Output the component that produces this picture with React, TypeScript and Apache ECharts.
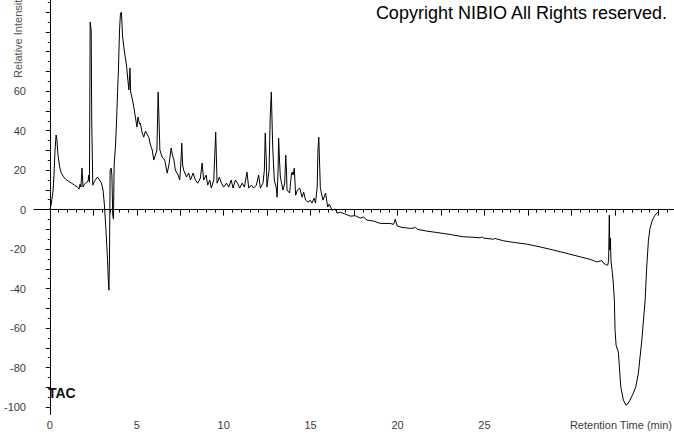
import React, { useEffect, useRef } from "react";
import * as echarts from "echarts";

const retentionTimes = [
  0, 0.07, 0.18, 0.24, 0.3, 0.36, 0.4, 0.47, 0.56, 0.64, 0.76, 0.9, 1.07, 1.25, 1.42, 1.59, 1.68, 1.74, 1.79, 1.85,
  1.91, 2.0, 2.11, 2.2, 2.24, 2.28, 2.32, 2.38, 2.41, 2.47, 2.57, 2.74, 2.86, 2.97, 3.06, 3.14, 3.23, 3.32, 3.37, 3.4,
  3.43, 3.47, 3.53, 3.57, 3.62, 3.66, 3.7, 3.78, 3.83, 3.89, 3.95, 4.01, 4.06, 4.12, 4.18, 4.24, 4.32, 4.41, 4.49, 4.55,
  4.61, 4.65, 4.72, 4.81, 4.93, 5.01, 5.07, 5.16, 5.21, 5.3, 5.4, 5.5, 5.59, 5.69, 5.79, 5.89, 5.98, 6.07, 6.16, 6.23,
  6.28, 6.33, 6.46, 6.61, 6.75, 6.85, 6.98, 7.05, 7.14, 7.22, 7.38, 7.47, 7.53, 7.59, 7.64, 7.7, 7.86, 7.99, 8.09, 8.24,
  8.37, 8.51, 8.66, 8.76, 8.85, 8.99, 9.08, 9.2, 9.29, 9.43, 9.54, 9.6, 9.62, 9.75, 9.87, 10.0, 10.16, 10.29, 10.43, 10.54,
  10.67, 10.8, 10.92, 11.06, 11.19, 11.34, 11.44, 11.59, 11.72, 11.88, 12.01, 12.11, 12.26, 12.34, 12.39, 12.45, 12.49, 12.61, 12.68, 12.74,
  12.78, 12.82, 12.91, 13.03, 13.07, 13.13, 13.16, 13.21, 13.26, 13.41, 13.51, 13.57, 13.62, 13.64, 13.79, 13.89, 13.93, 13.99, 14.06, 14.14,
  14.24, 14.37, 14.51, 14.6, 14.71, 14.85, 14.98, 15.08, 15.2, 15.28, 15.38, 15.42, 15.47, 15.51, 15.56, 15.71, 15.86, 15.98, 16.07, 16.23,
  16.42, 16.53, 16.71, 17.0, 17.28, 17.57, 17.86, 18.05, 18.24, 18.62, 19.01, 19.58, 19.77, 19.84, 19.87, 19.97, 20.25, 20.73, 20.96, 21.02,
  21.15, 21.69, 22.26, 23.03, 23.79, 24.18, 24.75, 24.85, 24.93, 25.52, 25.6, 26.09, 26.67, 27.44, 28.2, 28.97, 29.74, 30.5, 31.07, 31.46,
  31.75, 31.84, 32.03, 32.09, 32.14, 32.18, 32.21, 32.24, 32.28, 32.32, 32.41, 32.47, 32.51, 32.57, 32.7, 32.76, 32.84, 32.99, 33.14, 33.22,
  33.37, 33.56, 33.7, 33.85, 34.05, 34.24, 34.33, 34.43, 34.52, 34.66, 34.81, 34.97,
];

const relativeIntensity = [
  0, 2.3, 8.9, 17.5, 30.2, 37.8, 36.2, 27.6, 22.0, 19.0, 17.0, 15.5, 14.4, 13.4, 12.4, 11.4, 10.4, 12.9, 11.4, 21.0,
  11.4, 12.9, 13.9, 14.4, 17.5, 13.9, 95.0, 91.0, 45.4, 12.4, 14.4, 16.5, 15.0, 13.4, 9.9, 2.3, -10.4, -25.6, -36.7, -40.8,
  -25.6, 20.0, 21.0, 17.5, -2.8, -4.8, 22.6, 32.7, 42.8, 58.0, 71.7, 91.0, 99.1, 100.1, 88.4, 83.4, 78.3, 73.2, 65.6, 60.6,
  71.7, 59.6, 57.0, 53.0, 46.4, 41.8, 46.9, 43.3, 43.8, 39.3, 36.7, 39.8, 38.3, 36.7, 32.7, 30.2, 25.1, 27.6, 30.2, 59.6,
  45.4, 30.2, 26.6, 25.1, 18.5, 22.6, 31.2, 27.6, 25.1, 20.0, 17.5, 15.0, 22.6, 33.7, 22.6, 20.0, 16.5, 18.5, 15.0, 18.5,
  15.0, 13.4, 16.0, 23.6, 15.0, 17.5, 12.4, 15.0, 10.9, 15.0, 39.3, 20.0, 13.4, 16.5, 13.4, 11.4, 13.4, 11.4, 15.0, 10.9,
  15.0, 13.4, 10.9, 13.4, 11.4, 19.0, 10.9, 12.4, 10.9, 12.4, 17.5, 10.9, 13.4, 20.0, 38.8, 25.1, 11.4, 20.0, 47.9, 59.6,
  45.4, 31.7, 15.0, 10.9, 6.3, 20.0, 36.2, 25.1, 16.5, 9.9, 13.4, 27.6, 17.5, 9.9, 8.4, 17.5, 19.0, 17.5, 21.0, 7.3,
  9.9, 10.9, 6.3, 8.9, 4.8, 3.8, 4.8, 3.3, 5.8, 3.3, 11.4, 30.2, 36.7, 25.1, 10.9, 4.8, 8.4, 1.3, 2.8, -0.3,
  0.3, -1.8, -1.3, -2.3, -3.3, -3.1, -4.3, -3.8, -5.3, -5.8, -7.0, -7.0, -7.5, -5.8, -4.8, -8.2, -9.0, -9.5, -9.3, -8.9,
  -10.0, -10.9, -11.6, -12.6, -13.8, -13.9, -14.3, -13.8, -14.4, -15.0, -14.6, -15.8, -16.6, -17.5, -18.9, -20.5, -22.2, -23.9, -25.2, -26.5,
  -25.8, -27.1, -28.1, -28.1, -25.6, -2.8, -20.5, -14.4, -26.6, -29.1, -37.3, -45.9, -61.1, -68.7, -72.2, -79.8, -89.9, -96.5, -99.1, -98.6,
  -96.5, -93.0, -89.9, -82.9, -66.1, -45.9, -29.1, -15.5, -9.4, -5.3, -2.8, -1.3,
];

const xTickLabels = [0, 5, 10, 15, 20, 25];
const yTickLabels = [-100, -80, -60, -40, -20, 0, 20, 40, 60];

const X_MIN = -0.91;
const X_MAX = 35.9;
const Y_MIN = -103.8;
const Y_MAX = 106.2;

function range(start: number, end: number, step: number) {
  const out: number[] = [];
  for (let v = start; v <= end + 1e-9; v += step) out.push(Math.round(v * 100) / 100);
  return out;
}

const FONT = "'Liberation Sans', Arial, sans-serif";

export default function App() {
  const ref = useRef<HTMLDivElement>(null);

  useEffect(() => {
    if (!ref.current) return;
    const chart = echarts.init(ref.current, null, { renderer: "svg" });
    const data = retentionTimes.map((t, i) => [t, relativeIntensity[i]]);
    const axisColor = "#000";
    const labelStyle = { color: "#3c3c3c", fontSize: 11, fontFamily: FONT };

    chart.setOption({
      animation: false,
      backgroundColor: "#fff",
      grid: { left: 34, right: 0, top: 0, bottom: 19.5, containLabel: false },
      xAxis: [
        {
          type: "value",
          min: X_MIN,
          max: X_MAX,
          position: "bottom",
          axisLine: { show: true, lineStyle: { color: axisColor, width: 1 } },
          axisTick: { show: true, length: 6, customValues: range(0, 35, 2.5), lineStyle: { color: axisColor } },
          axisLabel: { show: true, margin: 5, customValues: xTickLabels, ...labelStyle },
          splitLine: { show: false },
        },
        {
          type: "value",
          min: X_MIN,
          max: X_MAX,
          position: "bottom",
          axisLine: { show: false },
          axisTick: { show: true, length: 3, customValues: range(0, 35.5, 0.5), lineStyle: { color: axisColor } },
          axisLabel: { show: false },
          splitLine: { show: false },
        },
      ],
      yAxis: [
        {
          type: "value",
          min: Y_MIN,
          max: Y_MAX,
          position: "left",
          axisLine: { show: true, lineStyle: { color: axisColor, width: 1 } },
          axisTick: { show: true, length: 4, customValues: range(-100, 100, 10), lineStyle: { color: axisColor } },
          axisLabel: { show: true, margin: 8, customValues: yTickLabels, ...labelStyle },
          splitLine: { show: false },
        },
        {
          type: "value",
          min: Y_MIN,
          max: Y_MAX,
          position: "left",
          axisLine: { show: false },
          axisTick: { show: true, length: 2, customValues: range(-100, 105, 5), lineStyle: { color: axisColor } },
          axisLabel: { show: false },
          splitLine: { show: false },
        },
      ],
      series: [
        {
          type: "line",
          data,
          xAxisIndex: 0,
          yAxisIndex: 0,
          showSymbol: false,
          symbol: "none",
          lineStyle: { color: "#000", width: 1 },
          silent: true,
        },
      ],
      graphic: [
        {
          type: "text",
          x: 667,
          y: 4,
          style: {
            text: "Copyright NIBIO All Rights reserved.",
            fill: "#000",
            font: `18px ${FONT}`,
            textAlign: "right",
            textVerticalAlign: "top",
          },
        },
        {
          type: "text",
          x: 48,
          y: 393,
          style: {
            text: "TAC",
            fill: "#111",
            font: `bold 14px ${FONT}`,
            textAlign: "left",
            textVerticalAlign: "middle",
          },
        },
        {
          type: "text",
          x: 672,
          y: 425,
          style: {
            text: "Retention Time (min)",
            fill: "#3c3c3c",
            font: `11px ${FONT}`,
            textAlign: "right",
            textVerticalAlign: "middle",
          },
        },
        {
          type: "text",
          x: 18,
          y: 78,
          rotation: Math.PI / 2,
          style: {
            text: "Relative Intensity",
            fill: "#555",
            font: `11px ${FONT}`,
            textAlign: "left",
            textVerticalAlign: "middle",
          },
        },
      ],
    });

    return () => chart.dispose();
  }, []);

  return (
    <div
      ref={ref}
      style={{ position: "fixed", left: 0, top: 0, width: 674, height: 434, background: "#fff" }}
    />
  );
}
